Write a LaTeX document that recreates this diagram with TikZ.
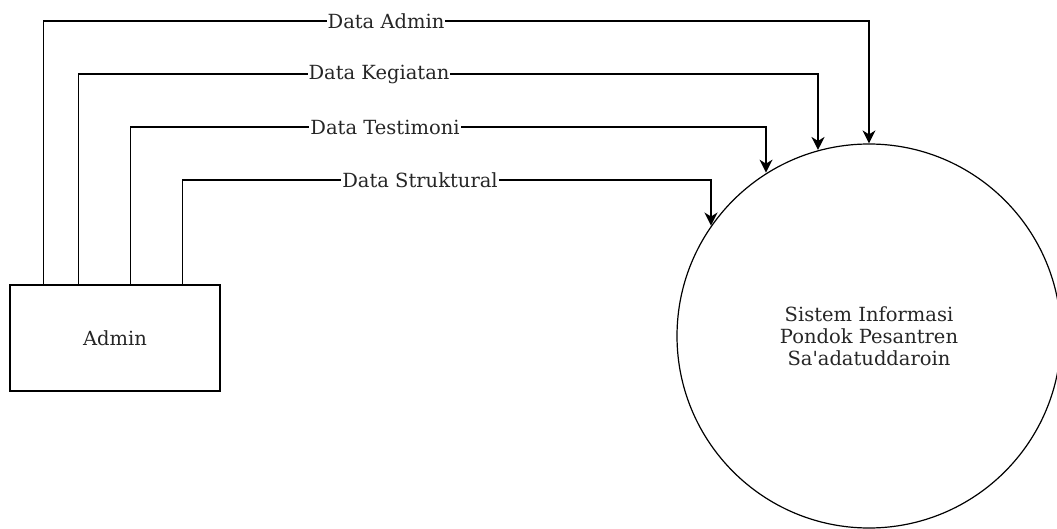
\documentclass[tikz,border=0pt]{standalone}
\usepackage{fontspec}
\setmainfont{DejaVu Serif}
\usetikzlibrary{arrows.meta}
\begin{document}
\begin{tikzpicture}[x=1pt,y=-1pt,
  every node/.style={font=\fontsize{19.5}{22}\selectfont, text=black!85},
  entity/.style={draw, line width=1.4pt, rectangle, minimum width=210pt, minimum height=106pt, inner sep=0pt},
  proc/.style={draw, line width=1.2pt, circle, minimum size=384pt, inner sep=0pt, align=center},
  flow/.style={draw, line width=1.4pt, -{Stealth[length=13pt,width=13pt,inset=4pt]}},
  lbl/.style={fill=white, inner sep=1pt}]
\useasboundingbox (0,0) rectangle (1057,529);
\node[entity] (admin) at (115,338) {Admin};
\node[proc] (sys) at (869,336) {Sistem Informasi\\Pondok Pesantren\\Sa\textquotesingle adatuddaroin};
\coordinate (c1) at (869,21);
\coordinate (c2) at (818,74);
\coordinate (c3) at (766,127);
\coordinate (c4) at (711,180);
\draw[flow] ([xshift=34pt]admin.north west) |- (c1) -- (sys.north);
\draw[flow] ([xshift=69pt]admin.north west) |- (c2) -- (c2 |- sys.105.35);
\draw[flow] ([xshift=121pt]admin.north west) |- (c3) -- (c3 |- sys.122.4);
\draw[flow] ([xshift=173pt]admin.north west) |- (c4) -- (c4 |- sys.145.3);
\node[lbl] (l1) at (386,21) {Data Admin};
\node[lbl] (l2) at (379,74) {Data Kegiatan};
\node[lbl] (l3) at (385,127) {Data Testimoni};
\node[lbl] (l4) at (420,180) {Data Struktural};
\end{tikzpicture}
\end{document}
